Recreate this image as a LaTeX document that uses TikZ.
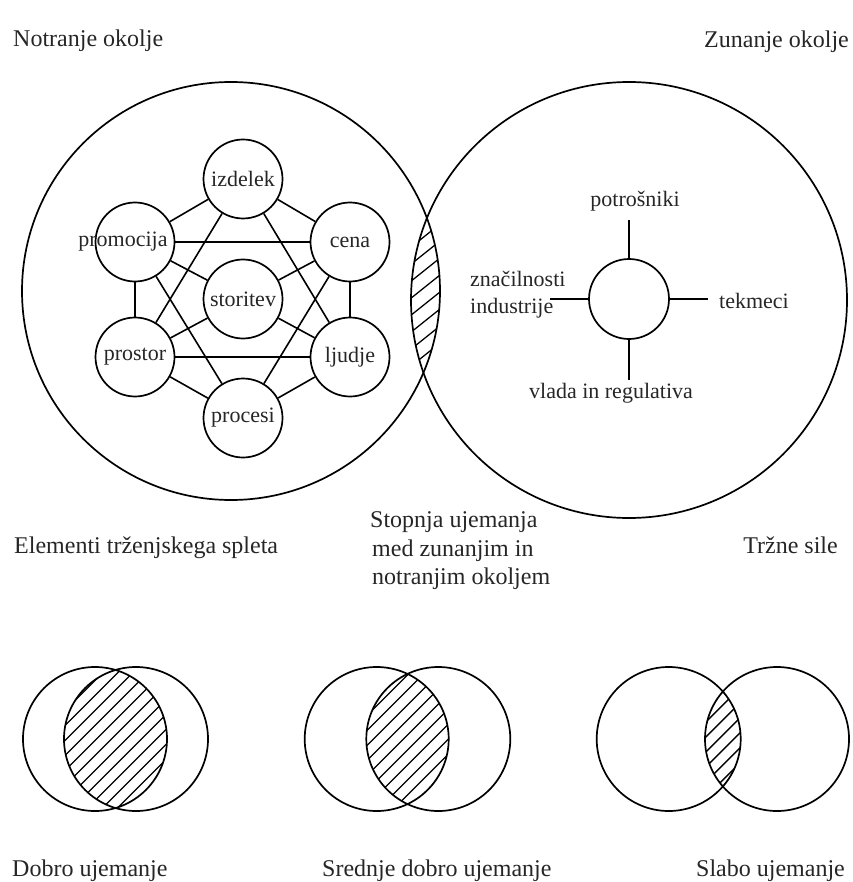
\documentclass[tikz,border=0pt]{standalone}
\usepackage{fontspec}
\setmainfont{Liberation Serif}
\begin{document}
\begin{tikzpicture}[x=1pt,y=-1pt,
  every node/.style={inner sep=0pt},
  ring/.style={circle, draw, line width=1.7pt, inner sep=0pt},
  elem/.style={ring, minimum size=79pt},
  venn/.style={ring, minimum size=144pt},
  inlab/.style={font=\fontsize{22}{26}\selectfont, text=black!85},
  outlab/.style={font=\fontsize{24}{29}\selectfont, text=black!85},
  link/.style={line width=1.6pt},
  hatchline/.style={line width=1.3pt}]
\useasboundingbox (0,0) rectangle (852,882);

% ---------- main hatched overlap ----------
\begin{scope}
  \clip (231,291) circle[radius=209pt];
  \clip (629,300) circle[radius=218pt];
  \foreach \k in {100,117,...,500}
    \draw[hatchline] (275,\k+120) -- (575,\k-120);
\end{scope}

% ---------- big circles ----------
\node[ring, minimum size=418pt] (notr) at (231,291) {};
\node[ring, minimum size=436pt] (zun) at (629,300) {};

% ---------- marketing mix ----------
\node[elem, label={[inlab]center:izdelek}] (izd) at (243,179) {};
\node[elem, label={[inlab, xshift=-12pt]center:promocija}] (prom) at (135,242) {};
\node[elem, label={[inlab]center:cena}] (cena) at (350,242) {};
\node[elem, label={[inlab]center:storitev}] (stor) at (243,299) {};
\node[elem, label={[inlab]center:prostor}] (prost) at (135,357) {};
\node[elem, label={[inlab]center:ljudje}] (ljud) at (350,357) {};
\node[elem, label={[inlab]center:procesi}] (proc) at (243,418) {};

\foreach \a/\b in {izd/prom, izd/cena, izd/prost, izd/ljud,
                   prom/cena, prom/stor, prom/prost, prom/proc,
                   cena/stor, cena/ljud, cena/proc,
                   prost/stor, prost/ljud, prost/proc,
                   ljud/stor, ljud/proc}
  \draw[link] (\a) -- (\b);

% ---------- market forces ----------
\node[ring, minimum size=80pt] (hub) at (629,299) {};
\coordinate (hubN) at (629,220);
\coordinate (hubS) at (629,380);
\coordinate (hubW) at (550,299);
\coordinate (hubE) at (708,299);
\draw[link] (hub) -- (hubN);
\draw[link] (hub) -- (hubS);
\draw[link] (hub) -- (hubW);
\draw[link] (hub) -- (hubE);
\node[inlab, anchor=base] (potr) at (635,207) {potrošniki};
\node[inlab, anchor=base] (vlada) at (611,398) {vlada in regulativa};
\node[inlab, anchor=base west] (znac) at (470,287) {značilnosti};
\node[inlab, anchor=base west] (indu) at (470,313) {industrije};
\node[inlab, anchor=base west] (tekm) at (719,308) {tekmeci};

% ---------- outer labels ----------
\node[outlab, anchor=base west] (tnotr) at (13,47) {Notranje okolje};
\node[outlab, anchor=base east] (tzun) at (849,48) {Zunanje okolje};
\node[outlab, anchor=base west] (telem) at (14,553) {Elementi trženjskega spleta};
\node[outlab, anchor=base east] (tsile) at (838,553) {Tržne sile};
\node[outlab, anchor=base west] (tst1) at (370,527) {Stopnja ujemanja};
\node[outlab, anchor=base west] (tst2) at (372,556) {med zunanjim in};
\node[outlab, anchor=base west] (tst3) at (372,584) {notranjim okoljem};

% ---------- bottom comparisons ----------
\foreach \xa/\xb/\nm in {95/136/a, 376.7/438.3/b, 668.7/777/c}{
  \begin{scope}
    \clip (\xa,739) circle[radius=72pt];
    \clip (\xb,739) circle[radius=72pt];
    \foreach \k in {540,555,...,940}
      \draw[hatchline] ({(\xa+\xb)/2-150},\k+150) -- ({(\xa+\xb)/2+150},\k-150);
  \end{scope}
  \node[venn] (\nm L) at (\xa,739) {};
  \node[venn] (\nm R) at (\xb,739) {};
}

\node[outlab, anchor=base west] (tdob) at (12,876) {Dobro ujemanje};
\node[outlab, anchor=base west] (tsre) at (322,876) {Srednje dobro ujemanje};
\node[outlab, anchor=base east] (tsla) at (845,876) {Slabo ujemanje};
\end{tikzpicture}
\end{document}
